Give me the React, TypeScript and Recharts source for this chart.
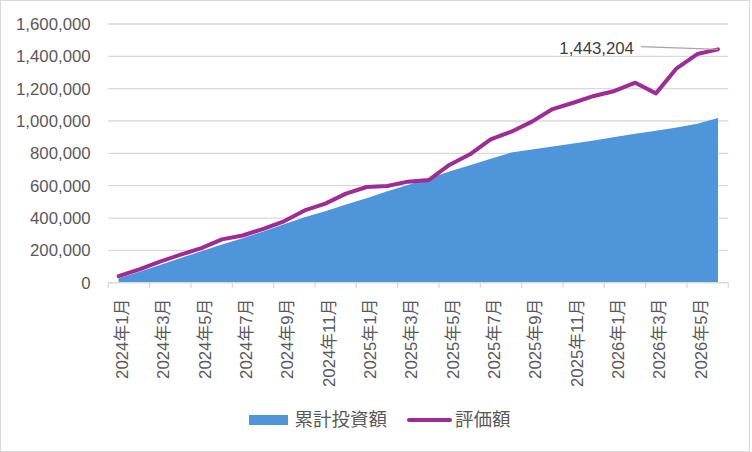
import React from 'react';
import { ComposedChart, Area, Line, XAxis, YAxis, CartesianGrid, Legend, LabelList } from 'recharts';

// ---- data ----
const categories = [
  '2024年1月', '2024年2月', '2024年3月', '2024年4月', '2024年5月', '2024年6月',
  '2024年7月', '2024年8月', '2024年9月', '2024年10月', '2024年11月', '2024年12月',
  '2025年1月', '2025年2月', '2025年3月', '2025年4月', '2025年5月', '2025年6月',
  '2025年7月', '2025年8月', '2025年9月', '2025年10月', '2025年11月', '2025年12月',
  '2026年1月', '2026年2月', '2026年3月', '2026年4月', '2026年5月', '2026年6月',
];

const investment = [
  28000, 68000, 110000, 152000, 195000, 236000,
  275000, 317000, 362000, 405000, 442000, 483000,
  523000, 565000, 604000, 645000, 687000, 727000,
  766000, 805000, 824000, 842000, 861000, 880000,
  901000, 921000, 940000, 960000, 983000, 1018000,
];

const valuation = [
  41000, 83000, 130000, 173000, 214000, 268000,
  292000, 333000, 380000, 447000, 489000, 551000,
  592000, 598000, 625000, 635000, 728000, 794000,
  887000, 934000, 996000, 1074000, 1113000, 1155000,
  1186000, 1237000, 1171000, 1326000, 1414000, 1443204,
];

const yTicks = [0, 200000, 400000, 600000, 800000, 1000000, 1200000, 1400000, 1600000];

const seriesNames = { investment: '累計投資額', valuation: '評価額' };
const colors = { investment: '#4E95D9', valuation: '#A02B93' };

const data = categories.map((label, i) => ({
  idx: i,
  label,
  investment: investment[i],
  valuation: valuation[i],
}));

// ---- layout ----
const W = 752;
const H = 452;
const MARGIN = { top: 24, right: 23.7, left: 0, bottom: 49.3 };
const Y_AXIS_W = 108.3;
const X_AXIS_H = 120;
const PLOT_W = W - MARGIN.left - MARGIN.right - Y_AXIS_W;
const HALF_BAND = PLOT_W / categories.length / 2;
const FONT = '"Liberation Sans", Arial, "Noto Sans CJK JP", sans-serif';
const TEXT = '#595959';
const GRID = '#d9d9d9';

const boundaryTicks = categories
  .map((_, i) => i - 0.5)
  .filter((_, i) => i % 2 === 0)
  .concat([categories.length - 0.5]);

const fmt = (v: number) => Number(v).toLocaleString('en-US');

const XTick = (props: any) => {
  const { x, y, payload } = props;
  const i = Math.round(payload.value + 0.5);
  const label = categories[i];
  if (!label) return null;
  const cx = x + HALF_BAND + 4;
  const cy = y + 11;
  return (
    <text
      x={cx}
      y={cy}
      transform={`rotate(-90 ${cx} ${cy})`}
      textAnchor="end"
      dominantBaseline="central"
      fontSize={16.8}
      fill={TEXT}
      fontFamily={FONT}
    >
      {label}
    </text>
  );
};

const ValueLabel = (props: any) => {
  const vb = props.viewBox || {};
  const px = props.x ?? vb.x;
  const py = props.y ?? vb.y;
  if (props.index !== valuation.length - 1 || px == null) return null;
  return (
    <g>
      <line x1={px - 77} y1={py - 2.7} x2={px} y2={py} stroke="#a6a6a6" strokeWidth={1.3} />
      <text x={px - 84} y={py + 5} textAnchor="end" fontSize={16.8} fill="#404040" fontFamily={FONT}>
        {fmt(props.value)}
      </text>
    </g>
  );
};

const LegendContent = () => (
  <div
    style={{
      display: 'flex',
      justifyContent: 'center',
      alignItems: 'center',
      fontFamily: FONT,
      fontSize: 18.5,
      color: TEXT,
      lineHeight: '24px',
      paddingLeft: 8,
    }}
  >
    <span style={{ display: 'inline-block', width: 39, height: 10.7, background: colors.investment, marginRight: 6 }} />
    <span>{seriesNames.investment}</span>
    <span
      style={{
        display: 'inline-block',
        width: 45,
        height: 4,
        borderRadius: 2,
        background: colors.valuation,
        marginLeft: 20,
        marginRight: 3,
      }}
    />
    <span>{seriesNames.valuation}</span>
  </div>
);

export default function App() {
  return (
    <div style={{ position: 'absolute', left: 0, top: 0, width: W, height: H, background: '#fff' }}>
      <div
        style={{
          position: 'absolute',
          left: 0,
          top: 0,
          width: 750,
          height: 452,
          boxSizing: 'border-box',
          border: `1.5px solid ${GRID}`,
        }}
      />
      <div style={{ position: 'absolute', left: 0, top: 0 }}>
        <ComposedChart width={W} height={H} data={data} margin={MARGIN}>
          <CartesianGrid vertical={false} stroke={GRID} strokeWidth={1.3} />
          <XAxis
            dataKey="idx"
            type="number"
            domain={[-0.5, categories.length - 0.5]}
            ticks={boundaryTicks}
            interval={0}
            allowDecimals
            height={X_AXIS_H}
            tickSize={5}
            tickMargin={0}
            axisLine={{ stroke: GRID, strokeWidth: 1.3 }}
            tickLine={{ stroke: GRID, strokeWidth: 1.3 }}
            tick={<XTick />}
          />
          <YAxis
            type="number"
            domain={[0, 1600000]}
            ticks={yTicks}
            width={Y_AXIS_W}
            axisLine={false}
            tickLine={false}
            tickSize={0}
            tickMargin={17.6}
            tick={{ fontSize: 16.8, fill: TEXT, fontFamily: FONT }}
            tickFormatter={fmt}
          />
          <Area
            dataKey="investment"
            name={seriesNames.investment}
            type="linear"
            fill={colors.investment}
            fillOpacity={1}
            stroke="none"
            isAnimationActive={false}
          />
          <Line
            dataKey="valuation"
            name={seriesNames.valuation}
            type="linear"
            stroke={colors.valuation}
            strokeWidth={4}
            strokeLinejoin="round"
            strokeLinecap="round"
            dot={false}
            activeDot={false}
            isAnimationActive={false}
          >
            <LabelList dataKey="valuation" content={ValueLabel} />
          </Line>
          <Legend
            layout="horizontal"
            verticalAlign="middle"
            align="center"
            wrapperStyle={{ position: 'absolute', top: 408, left: 0, width: W }}
            content={() => <LegendContent />}
          />
        </ComposedChart>
      </div>
    </div>
  );
}
